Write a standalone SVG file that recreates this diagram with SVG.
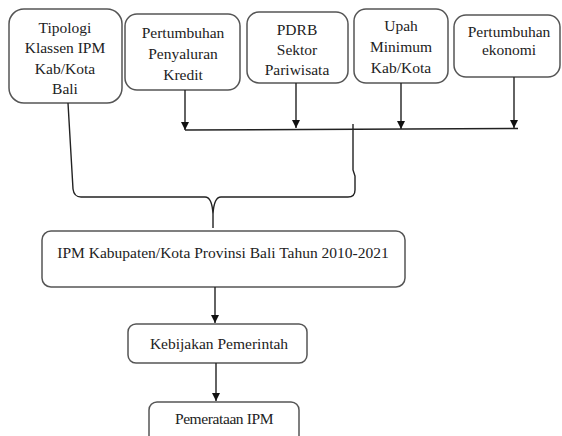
<svg xmlns="http://www.w3.org/2000/svg" width="562" height="436" viewBox="0 0 562 436">
<style>
.box{fill:#fff;stroke:#555;stroke-width:1.5}
.t{font-family:"Liberation Serif","Times New Roman",serif;font-size:15.5px;fill:#222;text-anchor:middle}
.ln{fill:none;stroke:#222;stroke-width:1.4}
.ar{fill:none;stroke:#222;stroke-width:1.4;marker-end:url(#ah)}
</style>
<defs>
<marker id="ah" viewBox="0 0 10 10" refX="10" refY="5" markerWidth="8" markerHeight="8" markerUnits="userSpaceOnUse" orient="auto">
<path d="M0,0 L10,5 L0,10 Z" fill="#111"/>
</marker>
</defs>
<rect width="562" height="436" fill="#fff"/>
<g id="n1"><rect class="box" x="9" y="9" width="113" height="94" rx="15"/>
<text class="t" x="65" y="33">Tipologi</text><text class="t" x="65" y="53">Klassen IPM</text><text class="t" x="65" y="74">Kab/Kota</text><text class="t" x="65" y="94">Bali</text></g>
<g id="n2"><rect class="box" x="125" y="14" width="115" height="76" rx="12"/>
<text class="t" x="183" y="38">Pertumbuhan</text><text class="t" x="183" y="59">Penyaluran</text><text class="t" x="183" y="80">Kredit</text></g>
<g id="n3"><rect class="box" x="247" y="12" width="101" height="71" rx="12"/>
<text class="t" x="297" y="35">PDRB</text><text class="t" x="297" y="55">Sektor</text><text class="t" x="297" y="75">Pariwisata</text></g>
<g id="n4"><rect class="box" x="354" y="9" width="94" height="74" rx="12"/>
<text class="t" x="401" y="31">Upah</text><text class="t" x="401" y="52">Minimum</text><text class="t" x="401" y="73">Kab/Kota</text></g>
<g id="n5"><rect class="box" x="454" y="15" width="106" height="62" rx="12"/>
<text class="t" x="509" y="37">Pertumbuhan</text><text class="t" x="509" y="55">ekonomi</text></g>
<g id="n6"><rect class="box" x="42" y="231" width="363" height="56" rx="9"/>
<text class="t" x="223" y="258">IPM Kabupaten/Kota Provinsi Bali Tahun 2010-2021</text></g>
<g id="n7"><rect class="box" x="128" y="324" width="179" height="39" rx="8"/>
<text class="t" x="219" y="349">Kebijakan Pemerintah</text></g>
<g id="n8"><rect class="box" x="149" y="402" width="150" height="50" rx="8"/>
<text class="t" x="224" y="424" style="letter-spacing:-0.4px">Pemerataan IPM</text></g>
<g id="connectors">
<path class="ar" d="M185,90 L185,130"/>
<path class="ar" d="M296,83 L296,128"/>
<path class="ar" d="M401,83 L401,129"/>
<path class="ar" d="M514,77 L514,128"/>
<path class="ln" d="M185,130 L518,128.5"/>
<path class="ln" d="M353,124 L353,170 L355,176 L355,190 Q355,197 348,197 L221,197"/>
<path class="ln" d="M68,103 L73,189 Q74,197 81,197 L205,197"/>
<path class="ln" d="M205,197 Q212,197 213,214 M221,197 Q214,197 213,214 L213,228"/>
<path class="ar" d="M215,287 L215,323"/>
<path class="ar" d="M216,363 L216,401"/>
</g>
</svg>
